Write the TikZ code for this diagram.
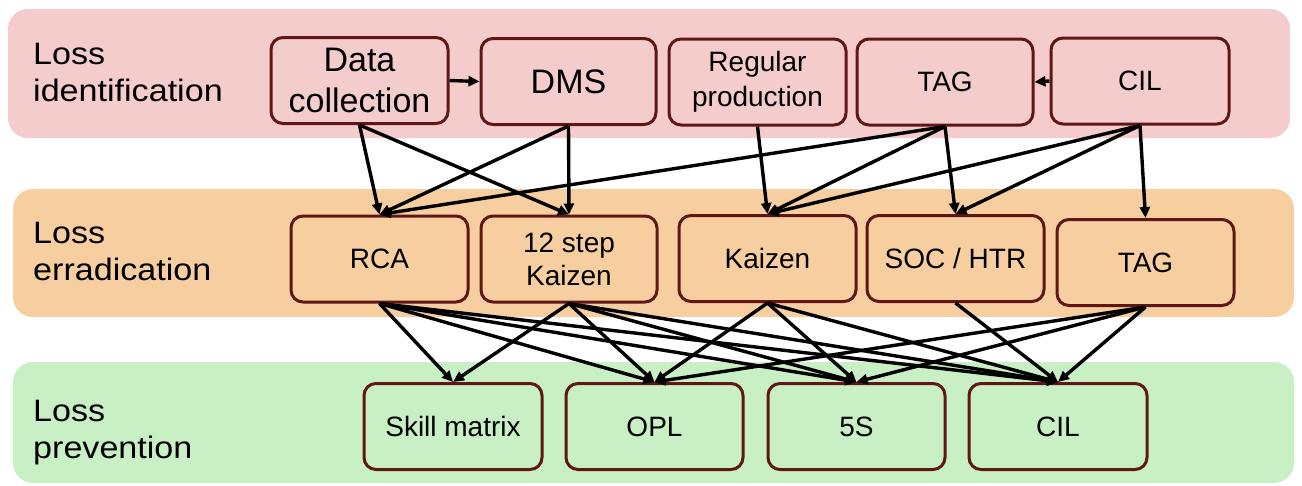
\documentclass[tikz,border=0pt]{standalone}
\usepackage{fontspec}
\setmainfont{Liberation Sans}
\newfontfamily\lblfont[FakeStretch=1.1]{Liberation Sans}
\usetikzlibrary{arrows.meta}
\definecolor{bandpink}{RGB}{244,204,204}
\definecolor{bandorange}{RGB}{246,206,160}
\definecolor{bandgreen}{RGB}{201,240,196}
\definecolor{boxline}{RGB}{96,22,22}
\begin{document}
\begin{tikzpicture}[x=1pt,y=-1pt,
  band/.style={rounded corners=20pt},
  box/.style={draw=boxline,line width=3pt,rounded corners=12pt,minimum height=86pt,minimum width=177pt,inner sep=2pt,align=center,font=\fontsize{28}{33}\selectfont},
  bigtxt/.style={font=\fontsize{34}{41}\selectfont},
  lbl/.style={anchor=west,align=left,inner sep=0pt,font=\lblfont\fontsize{31}{37}\selectfont},
  arr/.style={-{Triangle[length=11pt,width=10pt]},line width=3.4pt,black},
]
\useasboundingbox (0,0) rectangle (1302,485);
% bands
\fill[bandpink,band] (8,9) rectangle (1290,138);
\fill[bandorange,band] (13,189) rectangle (1294,317);
\fill[bandgreen,band] (13,362) rectangle (1294,483);
% row labels
\node[lbl] (lid) at (33,72) {Loss\\identification};
\node[lbl] (ler) at (33,251.5) {Loss\\erradication};
\node[lbl] (lpr) at (33,433) {Loss\\prevention};
% top row
\node[box,fill=bandpink,bigtxt] (dc) at (359.5,80.5) {Data\\collection};
\node[box,fill=bandpink,bigtxt,minimum width=175pt] (dms) at (568.5,81.5) {DMS};
\node[box,fill=bandpink,font=\fontsize{28}{35}\selectfont] (reg) at (757.5,82) {Regular\\production};
\node[box,fill=bandpink,minimum width=176pt] (tag1) at (945,82) {TAG};
\node[box,fill=bandpink,minimum width=178pt] (cil1) at (1140,81) {CIL};
% middle row
\node[box,fill=bandorange] (rca) at (379.5,259) {RCA};
\node[box,fill=bandorange,minimum width=176pt] (k12) at (569,259) {12 step\\Kaizen};
\node[box,fill=bandorange] (kai) at (767.5,258.5) {Kaizen};
\node[box,fill=bandorange] (soc) at (955.5,258.5) {SOC / HTR};
\node[box,fill=bandorange] (tag2) at (1145.5,262.5) {TAG};
% bottom row
\node[box,fill=bandgreen,minimum width=178pt] (skill) at (453,426.5) {Skill matrix};
\node[box,fill=bandgreen] (opl) at (654.5,426.5) {OPL};
\node[box,fill=bandgreen] (fives) at (856.5,426.5) {5S};
\node[box,fill=bandgreen,minimum width=178pt] (cil3) at (1058,426.5) {CIL};
% horizontal arrows
\draw[arr] (dc.east) -- (dms.west);
\draw[arr] (cil1.west) -- (tag1.east);
% top -> middle
\foreach \s/\t in {dc/rca,dc/k12,dms/rca,dms/k12,reg/kai,tag1/rca,tag1/kai,tag1/soc,cil1/kai,cil1/soc,cil1/tag2}
  \draw[arr] (\s.south) -- (\t.north);
% middle -> bottom
\foreach \s/\t in {rca/skill,rca/opl,rca/fives,rca/cil3,k12/skill,k12/opl,k12/fives,k12/cil3,kai/opl,kai/fives,kai/cil3,soc/cil3,tag2/opl,tag2/fives,tag2/cil3}
  \draw[arr] (\s.south) -- (\t.north);
\end{tikzpicture}
\end{document}
